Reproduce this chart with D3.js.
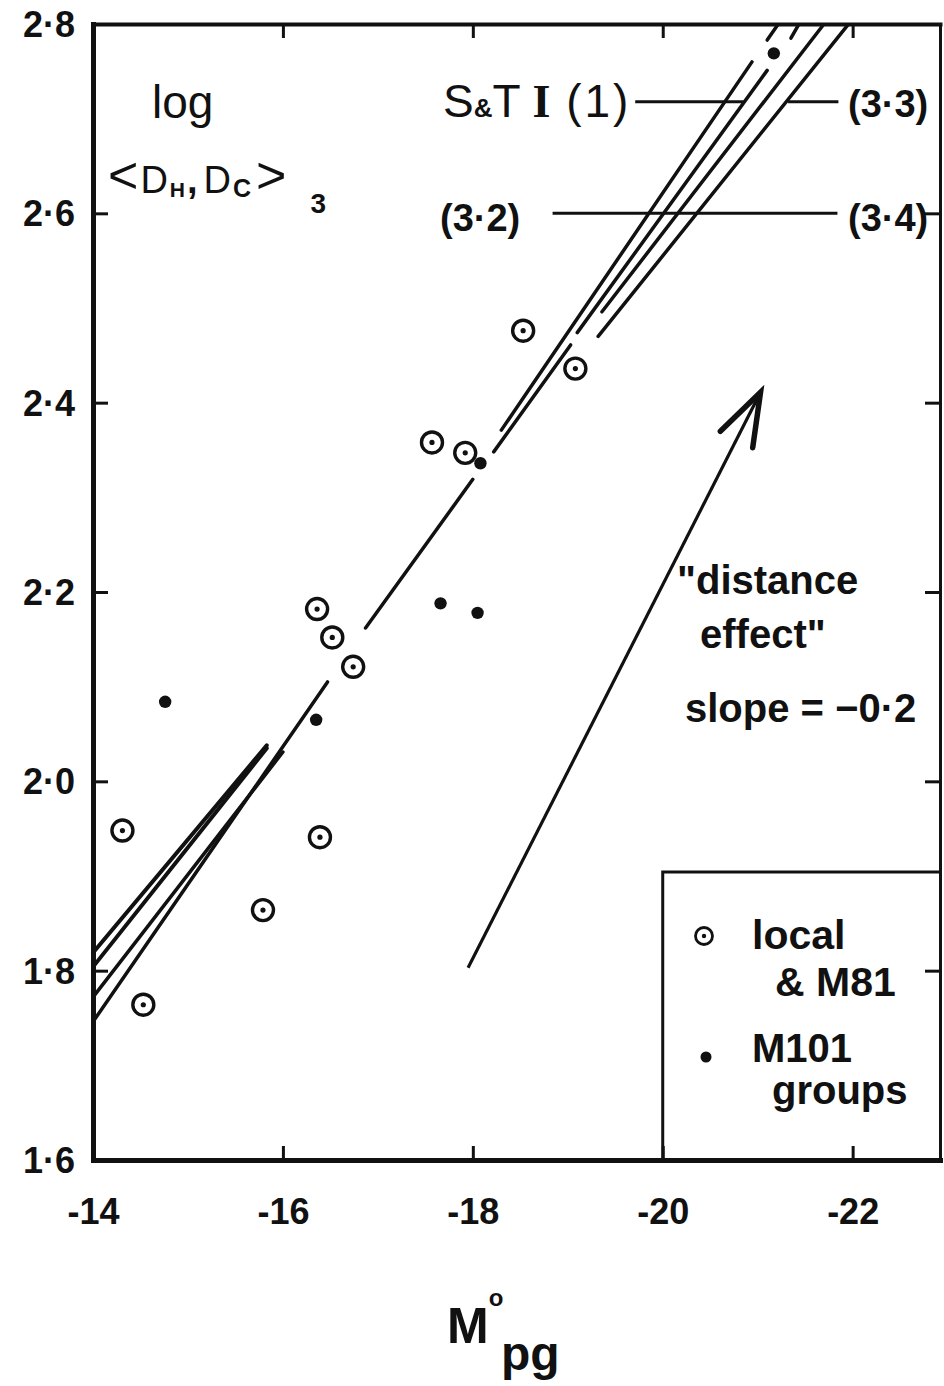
<!DOCTYPE html>
<html lang="en">
<head>
<meta charset="utf-8">
<title>log &lt;DH,DC&gt;3 against M°pg</title>
<script src="https://cdn.jsdelivr.net/npm/d3@7"></script>
<style>
  body { margin: 0; background: #fff; }
  svg { display: block; }
  text { font-family: "Liberation Sans", Arial, sans-serif; fill: #111; }
  .tick text { font-size: 36px; font-weight: bold; fill: #111; }
  .tick line { stroke: #111; stroke-width: 3; }
  .domain { stroke: #111; }
  .fit { stroke: #111; stroke-width: 3.5; stroke-linecap: round; fill: none; }
  .label { font-size: 38px; font-weight: bold; }
</style>
</head>
<body>
<div id="chart"></div>
<script>
// axes
var xTicks = [-14, -16, -18, -20, -22],
    yTicks = [1.6, 1.8, 2.0, 2.2, 2.4, 2.6, 2.8];

// local group & M81 galaxies (open circles)
var localMag = [-14.31, -14.53, -15.79, -16.36, -16.52, -16.74, -16.39, -17.57, -17.92, -18.53, -19.08],
    localLog = [1.948, 1.764, 1.864, 2.182, 2.152, 2.121, 1.941, 2.358, 2.347, 2.476, 2.436];

// M101 groups (filled dots)
var m101Mag = [-14.76, -16.35, -17.66, -18.05, -18.08, -21.17],
    m101Log = [2.084, 2.065, 2.188, 2.178, 2.336, 2.769];

// the drawn relations, as pieces [[mag, log], [mag, log]]
var fitMain = [[[-14.00, 1.746], [-16.47, 2.105]],
               [[-16.87, 2.162], [-18.00, 2.319]],
               [[-18.22, 2.348], [-19.03, 2.461]],
               [[-19.10, 2.474], [-21.10, 2.751]],
               [[-21.35, 2.785], [-21.43, 2.799]]];
var fitA = [[[-18.30, 2.371], [-20.94, 2.760]],
            [[-21.10, 2.783], [-21.21, 2.799]]];
var fitC = [[[-19.36, 2.496], [-21.69, 2.799]]];
var fitD = [[[-19.32, 2.470], [-21.95, 2.799]]];
var fitLow = [[[-14.00, 1.819], [-15.83, 2.038]],
              [[-14.00, 1.804], [-15.83, 2.035]],
              [[-14.00, 1.772], [-16.00, 2.031]]];

// label leaders
var leaderLog = [2.718, 2.718, 2.6],
    leaderFrom = [-19.71, -21.32, -18.84],
    leaderTo = [-20.85, -21.85, -21.84];

// "distance effect" arrow, slope -0.2
var arrowMag = [-17.95, -21.03],
    arrowLog = [1.803, 2.411];

var W = 944, H = 1386;

var svg = d3.select("#chart").append("svg")
    .attr("width", W)
    .attr("height", H);

svg.append("rect").attr("width", W).attr("height", H).attr("fill", "#fff");

var x = d3.scaleLinear().domain([-14, -22.92]).range([93, 940]);
var y = d3.scaleLinear().domain([1.6, 2.8]).range([1160, 24]);

var fmt = function(d) { return d3.format(".1f")(d).replace(".", "\u00b7"); };

// frame & ticks
var gLeft = svg.append("g").attr("transform", "translate(" + x(-14) + ",0)")
    .call(d3.axisLeft(y).tickValues(yTicks).tickSize(-15).tickSizeOuter(0).tickPadding(18).tickFormat(fmt));
gLeft.select(".domain").style("stroke-width", 5);
gLeft.selectAll(".tick text").attr("dy", "0.35em");

var gBottom = svg.append("g").attr("transform", "translate(0," + y(1.6) + ")")
    .call(d3.axisBottom(x).tickValues(xTicks).tickSize(-14).tickSizeOuter(0).tickPadding(38).tickFormat(function(d) { return String(d); }));
gBottom.select(".domain").style("stroke-width", 5);

var gTop = svg.append("g").attr("transform", "translate(0," + y(2.8) + ")")
    .call(d3.axisTop(x).tickValues(xTicks.slice(1)).tickSize(-14).tickSizeOuter(0).tickFormat(""));
gTop.select(".domain").style("stroke-width", 4);

var gRight = svg.append("g").attr("transform", "translate(" + x(-22.92) + ",0)")
    .call(d3.axisRight(y).tickValues([1.8, 2.0, 2.2, 2.4, 2.6]).tickSize(-15).tickSizeOuter(0).tickFormat(""));
gRight.select(".domain").style("stroke-width", 3);

svg.selectAll(".domain").style("stroke-linecap", "square");

// relation lines
var seg = d3.line().x(function(d) { return x(d[0]); }).y(function(d) { return y(d[1]); });

var fits = svg.append("g");
[fitMain, fitA, fitC, fitD].forEach(function(pieces) {
  fits.selectAll(null).data(pieces).enter().append("path")
      .attr("class", "fit")
      .attr("d", seg);
});
fits.selectAll(null).data(fitLow).enter().append("path")
    .attr("class", "fit")
    .style("stroke-width", function(d, i) { return i < 2 ? 4 : 3.5; })
    .attr("d", seg);

// leaders to the labels
svg.selectAll(null).data(leaderLog).enter().append("line")
    .attr("x1", function(d, i) { return x(leaderFrom[i]); })
    .attr("x2", function(d, i) { return x(leaderTo[i]); })
    .attr("y1", function(d) { return y(d); })
    .attr("y2", function(d) { return y(d); })
    .style("stroke", "#111")
    .style("stroke-width", 3);

// points
var local = svg.append("g").selectAll("g")
    .data(localMag).enter().append("g")
    .attr("transform", function(d, i) { return "translate(" + x(d) + "," + y(localLog[i]) + ")"; });
local.append("circle").attr("r", 10.5).attr("fill", "#fff").attr("stroke", "#111").attr("stroke-width", 3.4);
local.append("circle").attr("r", 2.6).attr("fill", "#111");

svg.append("g").selectAll("circle")
    .data(m101Mag).enter().append("circle")
    .attr("cx", function(d) { return x(d); })
    .attr("cy", function(d, i) { return y(m101Log[i]); })
    .attr("r", 6.2)
    .attr("fill", "#111");

// arrow
var ax0 = x(arrowMag[0]), ay0 = y(arrowLog[0]), ax1 = x(arrowMag[1]), ay1 = y(arrowLog[1]);
var ang = Math.atan2(ay0 - ay1, ax0 - ax1), wing = 0.33, wl = 56;
svg.append("line")
    .attr("x1", ax0).attr("y1", ay0).attr("x2", ax1).attr("y2", ay1)
    .style("stroke", "#111").style("stroke-width", 3.2);
svg.append("path")
    .attr("d", "M" + (ax1 + wl * Math.cos(ang + wing)) + "," + (ay1 + wl * Math.sin(ang + wing)) +
               "L" + ax1 + "," + ay1 +
               "L" + (ax1 + wl * Math.cos(ang - wing)) + "," + (ay1 + wl * Math.sin(ang - wing)))
    .style("fill", "none").style("stroke", "#111").style("stroke-width", 5.5)
    .style("stroke-linecap", "round").style("stroke-linejoin", "miter");

// legend
var lx = x(-20), ly = 872;
svg.append("path")
    .attr("d", "M" + lx + "," + y(1.6) + "V" + ly + "H" + x(-22.92))
    .style("fill", "none").style("stroke", "#111").style("stroke-width", 3);
svg.append("circle").attr("cx", 704).attr("cy", 936).attr("r", 8.5)
    .attr("fill", "none").attr("stroke", "#111").attr("stroke-width", 2.8);
svg.append("circle").attr("cx", 704).attr("cy", 936).attr("r", 2.2).attr("fill", "#111");
svg.append("circle").attr("cx", 706).attr("cy", 1057).attr("r", 5.5).attr("fill", "#111");
svg.append("text").attr("class", "label").attr("x", 752).attr("y", 949).style("font-size", "41px").text("local");
svg.append("text").attr("class", "label").attr("x", 775).attr("y", 996).style("font-size", "41px").text("& M81");
svg.append("text").attr("class", "label").attr("x", 752).attr("y", 1062).style("font-size", "40px").text("M101");
svg.append("text").attr("class", "label").attr("x", 772).attr("y", 1104).style("font-size", "40px").text("groups");

// annotation
svg.append("text").attr("class", "label").attr("x", 677).attr("y", 594).style("font-size", "40px").text("\"distance");
svg.append("text").attr("class", "label").attr("x", 700).attr("y", 648).style("font-size", "40px").text("effect\"");
svg.append("text").attr("class", "label").attr("x", 685).attr("y", 722).style("font-size", "40px").text("slope = \u22120\u00b72");

// y title
svg.append("text").attr("x", 152).attr("y", 118).style("font-size", "46px").text("log");
var yt = svg.append("text").attr("x", 108).attr("y", 193).style("font-size", "38px").style("letter-spacing", "2px");
yt.append("tspan").style("font-size", "52px").text("<");
yt.append("tspan").text("D");
yt.append("tspan").attr("dy", 4).style("font-size", "21px").style("font-weight", "bold").text("H");
yt.append("tspan").attr("dy", -4).style("font-weight", "bold").text(",");
yt.append("tspan").attr("dx", 4).text("D");
yt.append("tspan").attr("dy", 4).style("font-size", "25px").style("font-weight", "bold").text("C");
yt.append("tspan").attr("dy", -4).attr("dx", 3).style("font-size", "52px").text(">");
yt.append("tspan").attr("dy", 20).attr("dx", 22).style("font-size", "28px").style("font-weight", "bold").text("3");

// relation labels
var st = svg.append("text").attr("x", 443).attr("y", 117).style("font-size", "46px");
st.append("tspan").text("S");
st.append("tspan").style("font-size", "26px").style("font-weight", "bold").text("&");
st.append("tspan").text("T ");
st.append("tspan").style("font-family", "'Liberation Serif', serif").style("font-weight", "bold").text("I");
st.append("tspan").style("letter-spacing", "3px").text(" (1)");
svg.append("text").attr("class", "label").attr("x", 848).attr("y", 117).text("(3\u00b73)");
svg.append("text").attr("class", "label").attr("x", 440).attr("y", 231).text("(3\u00b72)");
svg.append("text").attr("class", "label").attr("x", 848).attr("y", 231).text("(3\u00b74)");

// x title
var xt = svg.append("text").attr("x", 447).attr("y", 1343).style("font-size", "50px").style("font-weight", "bold");
xt.append("tspan").text("M");
xt.append("tspan").attr("dy", -37).style("font-size", "24px").text("o");
xt.append("tspan").attr("x", 501).attr("y", 1370).style("font-size", "48px").text("pg");
</script>
</body>
</html>
